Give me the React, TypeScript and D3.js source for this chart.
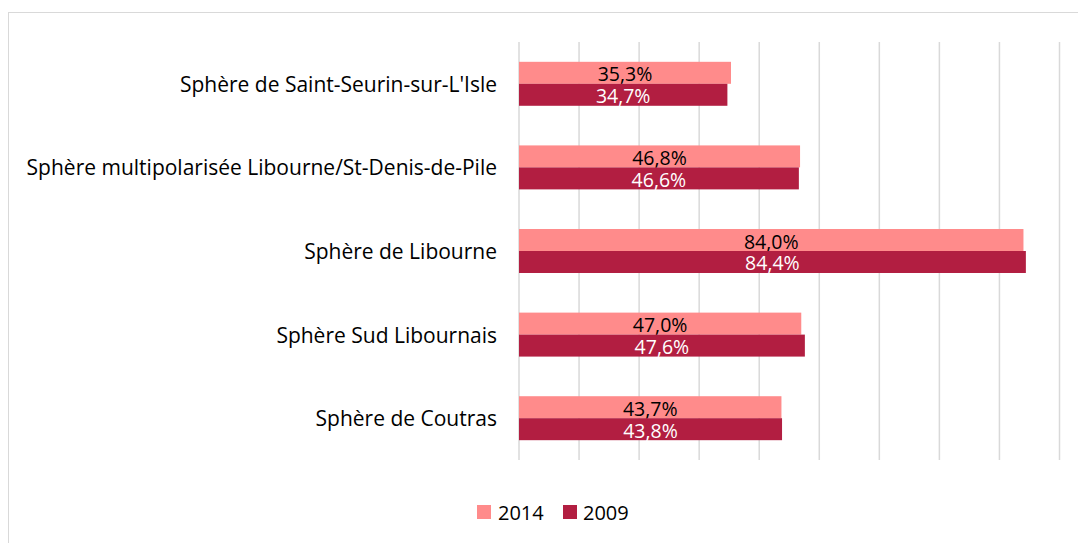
import React from "react";
import * as d3 from "d3";

const categories = [
  "Sphère de Saint-Seurin-sur-L'Isle",
  "Sphère multipolarisée Libourne/St-Denis-de-Pile",
  "Sphère de Libourne",
  "Sphère Sud Libournais",
  "Sphère de Coutras",
];
const series = ["2014", "2009"];
const values2014 = [35.3, 46.8, 84.0, 47.0, 43.7];
const values2009 = [34.7, 46.6, 84.4, 47.6, 43.8];
const xTicks = [0, 10, 20, 30, 40, 50, 60, 70, 80, 90];
const colors = ["#FF8B8B", "#B21E41"];
const labelColors = ["#000000", "#FFFFFF"];

const W = 1078;
const H = 543;
const FONT = "'Open Sans', sans-serif";

export default function App() {
  const x = d3.scaleLinear().domain([0, 90]).range([519, 1059.5]);
  const y = d3.scaleBand<string>().domain(categories).range([42, 460]).padding(0);
  const bw = y.bandwidth();
  const sub = d3
    .scaleBand<string>()
    .domain(series)
    .range([bw * 0.237, bw * 0.763])
    .padding(0);
  const allVals = [values2014, values2009];
  const fmt = (v: number) => v.toFixed(1).replace(".", ",") + "%";

  return (
    <svg
      width={W}
      height={H}
      style={{ position: "absolute", left: 0, top: 0, background: "#fff" }}
    >
      <rect x={8.5} y={12.5} width={1080} height={540} fill="#fff" stroke="#D9D9D9" strokeWidth={1} />
      {xTicks.map((t) => (
        <line
          key={t}
          x1={x(t)}
          x2={x(t)}
          y1={42}
          y2={460}
          stroke="#D9D9D9"
          strokeWidth={1.5}
        />
      ))}
      {categories.map((c, i) => (
        <g key={c}>
          <text
            x={497}
            y={(y(c) as number) + bw / 2}
            textAnchor="end"
            dominantBaseline="central"
            fontFamily={FONT}
            fontSize={21}
            fill="#000"
          >
            {c}
          </text>
          {series.map((s, k) => {
            const v = allVals[k][i];
            const yy = (y(c) as number) + (sub(s) as number);
            const h = sub.bandwidth();
            return (
              <g key={s}>
                <rect x={x(0)} y={yy} width={x(v) - x(0)} height={h} fill={colors[k]} />
                <text
                  x={(x(0) + x(v)) / 2}
                  y={yy + h / 2 + 1}
                  textAnchor="middle"
                  dominantBaseline="central"
                  fontFamily={FONT}
                  fontSize={19.5}
                  fill={labelColors[k]}
                >
                  {fmt(v)}
                </text>
              </g>
            );
          })}
        </g>
      ))}
      {[
        { s: series[0], sx: 477, tx: 498 },
        { s: series[1], sx: 563, tx: 583 },
      ].map((d, k) => (
        <g key={d.s}>
          <rect x={d.sx} y={505} width={14} height={14} fill={colors[k]} />
          <text
            x={d.tx}
            y={512.5}
            dominantBaseline="central"
            fontFamily={FONT}
            fontSize={20}
            fill="#000"
          >
            {d.s}
          </text>
        </g>
      ))}
    </svg>
  );
}
